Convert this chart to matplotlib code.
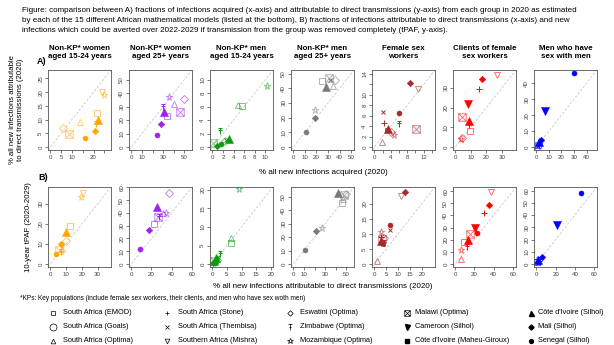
import matplotlib
matplotlib.use('Agg')
import matplotlib.pyplot as plt
from matplotlib.path import Path
from matplotlib.colors import to_rgba

plt.rcParams['font.family'] = ['Liberation Sans', 'DejaVu Sans']

# --- data ---
group_titles = ['Non-KP* women\naged 15-24 years', 'Non-KP* women\naged 25+ years',
                'Non-KP* men\naged 15-24 years', 'Non-KP* men\naged 25+ years',
                'Female sex\nworkers', 'Clients of female\nsex workers', 'Men who have\nsex with men']
group_colors = ['#FFA500', '#A020F0', '#119911', '#7A7A7A', '#A52A2A', '#FF0000', '#0000FF']

# row A: x = % acquired, y = % attributable to direct transmission
models_A1 = ['Eswatini', 'Malawi', 'SAOpt', 'Senegal', 'Mali', 'Zimbabwe', 'CdI_S', 'EMOD', 'Mishra', 'Mozambique']
x_A1 = [5.9, 8.5, 13.5, 15.9, 20.6, 21.2, 22.0, 21.8, 23.7, 24.7]
y_A1 = [6.9, 4.8, 9.0, 3.4, 5.9, 8.3, 9.9, 12.5, 20.1, 19.0]

models_A2 = ['Senegal', 'Mali', 'Zimbabwe', 'CdI_S', 'EMOD', 'Mozambique', 'SAOpt', 'Malawi', 'Eswatini']
x_A2 = [24.0, 28.0, 29.7, 31.0, 34.0, 35.6, 40.0, 46.0, 49.5]
y_A2 = [8.6, 17.0, 30.0, 26.0, 23.0, 37.0, 32.0, 26.0, 36.0]

models_A3 = ['Malawi', 'Mali', 'Senegal', 'Eswatini', 'Thembisa', 'Zimbabwe', 'CdI_S', 'SAOpt', 'EMOD', 'Mozambique']
x_A3 = [0.2, 0.8, 1.7, 2.3, 2.6, 1.4, 3.1, 4.9, 5.6, 10.4]
y_A3 = [0.6, 0.1, 0.5, 0.95, 1.1, 2.35, 1.25, 6.2, 6.05, 9.0]

models_A4 = ['Senegal', 'Mali', 'Mozambique', 'EMOD', 'CdI_S', 'Malawi', 'SAOpt', 'Thembisa', 'Eswatini']
x_A4 = [10.7, 18.8, 18.8, 25.0, 28.0, 31.0, 34.7, 32.0, 36.0]
y_A4 = [10.0, 20.0, 25.4, 45.0, 40.6, 47.0, 41.7, 46.0, 46.0]

models_A5 = ['SAOpt', 'Thembisa', 'Stone', 'CdI_MG', 'CdI_S', 'Eswatini', 'Mozambique', 'Senegal', 'Zimbabwe', 'Mali', 'Mishra', 'Malawi']
x_A5 = [1.8, 2.2, 2.4, 3.0, 3.3, 4.0, 4.8, 6.0, 6.0, 8.6, 10.6, 10.2]
y_A5 = [0.9, 6.7, 4.6, 3.3, 3.4, 2.9, 2.3, 6.6, 4.5, 12.3, 11.1, 3.4]

models_A6 = ['Mozambique', 'Eswatini', 'Malawi', 'EMOD', 'Zimbabwe', 'CdI_S', 'Cameroon', 'Stone', 'Mali', 'Mishra']
x_A6 = [3.4, 4.6, 4.3, 9.6, 8.5, 8.5, 8.1, 15.3, 17.0, 27.0]
y_A6 = [4.0, 4.6, 15.1, 8.3, 11.4, 13.0, 21.9, 29.5, 34.2, 36.3]

models_A7 = ['SAOpt', 'EMOD', 'Thembisa', 'Stone', 'CdI_S', 'Mali', 'Cameroon', 'Senegal']
x_A7 = [0.3, 1.0, 1.6, 2.2, 1.8, 3.7, 6.9, 30.0]
y_A7 = [0.0, 1.5, 0.8, 2.5, 3.0, 4.7, 22.5, 46.5]

# row B: x = % attributable to direct transmission, y = 10-year tPAF
models_B1 = ['Senegal', 'Malawi', 'Zimbabwe', 'Mali', 'SAOpt', 'Eswatini', 'CdI_S', 'EMOD', 'Mozambique', 'Mishra']
x_B1 = [3.4, 5.5, 6.6, 7.0, 7.4, 10.2, 10.2, 12.6, 19.4, 20.9]
y_B1 = [4.8, 6.9, 6.1, 10.2, 7.7, 11.4, 16.0, 18.8, 33.3, 35.7]

models_B2 = ['Senegal', 'Mali', 'EMOD', 'Malawi', 'Zimbabwe', 'CdI_S', 'SAOpt', 'Mozambique', 'Eswatini']
x_B2 = [9.0, 17.7, 22.7, 26.7, 28.0, 26.0, 31.0, 34.0, 37.3]
y_B2 = [12.1, 26.4, 31.5, 37.2, 37.0, 44.4, 39.8, 40.0, 56.0]

models_B3 = ['Mali', 'Malawi', 'Senegal', 'CdI_S', 'Eswatini', 'Thembisa', 'Zimbabwe', 'EMOD', 'SAOpt', 'Mozambique']
x_B3 = [0.3, 0.5, 0.8, 1.2, 1.5, 2.0, 2.7, 6.4, 6.5, 9.3]
y_B3 = [0.2, 0.8, 0.3, 1.5, 1.2, 1.8, 2.65, 5.6, 7.1, 20.2]

models_B4 = ['Senegal', 'Mali', 'Mozambique', 'CdI_S', 'EMOD', 'SAOpt', 'Malawi', 'Eswatini']
x_B4 = [10.6, 21.8, 27.3, 41.7, 46.0, 47.0, 48.0, 49.5]
y_B4 = [10.2, 24.3, 26.7, 52.4, 45.6, 48.0, 51.0, 51.7]

models_B5 = ['SAOpt', 'Stone', 'CdI_S', 'CdI_MG', 'Malawi', 'Eswatini', 'Zimbabwe', 'Mozambique', 'Thembisa', 'Senegal', 'Mishra', 'Mali']
x_B5 = [1.0, 2.8, 3.0, 3.5, 3.2, 4.0, 4.2, 2.7, 6.7, 6.5, 11.4, 12.8]
y_B5 = [0.9, 8.8, 7.5, 6.5, 8.2, 8.5, 7.0, 10.5, 11.4, 12.9, 22.6, 23.7]

models_B6 = ['SAOpt', 'Mozambique', 'Zimbabwe', 'EMOD', 'CdI_S', 'Malawi', 'Senegal', 'Cameroon', 'Stone', 'Mali', 'Mishra']
x_B6 = [5.5, 5.8, 12.4, 9.3, 13.0, 15.5, 23.0, 20.6, 30.2, 35.0, 37.0]
y_B6 = [4.3, 11.6, 14.2, 18.3, 19.6, 25.0, 25.5, 29.6, 41.7, 48.4, 59.0]

models_B7 = ['EMOD', 'Thembisa', 'Mozambique', 'CdI_S', 'Stone', 'Mali', 'Cameroon', 'Senegal']
x_B7 = [1.0, 1.5, 1.0, 2.0, 3.0, 5.8, 21.7, 46.0]
y_B7 = [1.5, 0.8, 3.5, 3.0, 2.5, 5.4, 31.7, 57.8]

# axis maxima (both axes share the same range in each panel)
A_max = [27, 55, 11, 50.5, 14.2, 37.5, 46.5]
B_max = [37, 58, 20, 55, 24.5, 61, 60.5]

A_xticks = [[0, 5, 10, 15, 20, 25], [0, 10, 20, 30, 40, 50], [0, 2, 4, 6, 8, 10], [0, 10, 20, 30, 40, 50],
            [0, 2, 4, 6, 8, 10, 12, 14], [0, 10, 20, 30], [0, 10, 20, 30, 40]]
A_xshown = [[0, 5, 10, 20], [0, 10, 30, 50], [0, 2, 4, 6, 8, 10], [0, 10, 20, 30, 40, 50],
            [0, 4, 8, 12], [0, 10, 20, 30], [0, 10, 20, 30, 40]]
A_yticks = [[0, 5, 10, 15, 20, 25], [0, 10, 20, 30, 40, 50], [0, 2, 4, 6, 8, 10], [0, 10, 20, 30, 40, 50],
            [0, 2, 4, 6, 8, 10, 12, 14], [0, 10, 20, 30], [0, 10, 20, 30, 40]]
A_yshown = [A_yticks[0], A_yticks[1], A_yticks[2], A_yticks[3], [0, 2, 4, 6, 8, 10, 14], A_yticks[5], A_yticks[6]]

B_xticks = [[0, 10, 20, 30], [0, 20, 40, 60], [0, 5, 10, 15, 20], [0, 10, 20, 30, 40, 50],
            [0, 5, 10, 15, 20], [0, 20, 40, 60], [0, 20, 40, 60]]
B_xshown = [B_xticks[0], B_xticks[1], B_xticks[2], [0, 10, 30, 50], B_xticks[4], B_xticks[5], B_xticks[6]]
B_yticks = [[0, 10, 20, 30], [0, 10, 20, 30, 40, 50, 60], [0, 5, 10, 15, 20], [0, 10, 20, 30, 40, 50],
            [0, 5, 10, 15, 20], [0, 10, 20, 30, 40, 50, 60], [0, 10, 20, 30, 40, 50, 60]]
B_yshown = B_yticks

legend_keys = ['EMOD', 'Goals', 'SAOpt', 'Stone', 'Thembisa', 'Mishra', 'Eswatini', 'Zimbabwe', 'Mozambique',
               'Malawi', 'Cameroon', 'CdI_MG', 'CdI_S', 'Mali', 'Senegal']
legend_labels = ['South Africa (EMOD)', 'South Africa (Goals)', 'South Africa (Optima)',
                 'South Africa (Stone)', 'South Africa (Thembisa)', 'Southern Africa (Mishra)',
                 'Eswatini (Optima)', 'Zimbabwe (Optima)', 'Mozambique (Optima)',
                 'Malawi (Optima)', 'Cameroon (Silhol)', "Côte d'Ivoire (Maheu-Giroux)",
                 "Côte d'Ivoire (Silhol)", 'Mali (Silhol)', 'Senegal (Silhol)']

# --- marker styles ---
M, L = Path.MOVETO, Path.LINETO
zim_marker = Path([(-0.6, 1), (0.6, 1), (0, 1), (0, -1), (-0.45, 0.15), (0.45, 0.15)], [M, L, M, L, M, L])
malawi_marker = Path([(-1, -1), (1, -1), (1, 1), (-1, 1), (-1, -1), (1, 1), (-1, 1), (1, -1)],
                     [M, L, L, L, L, L, M, L])

styles = {
    'EMOD': dict(marker='s', hollow=True, ms=4.0),
    'Goals': dict(marker='o', hollow=True, ms=4.0),
    'SAOpt': dict(marker='^', hollow=True, ms=4.6),
    'Stone': dict(marker='+', hollow=True, ms=4.2, full=True),
    'Thembisa': dict(marker='x', hollow=True, ms=3.2, full=True),
    'Mishra': dict(marker='v', hollow=True, ms=4.6),
    'Eswatini': dict(marker='D', hollow=True, ms=3.6),
    'Zimbabwe': dict(marker=zim_marker, hollow=True, ms=5.0, full=True),
    'Mozambique': dict(marker='*', hollow=True, ms=5.2),
    'Malawi': dict(marker=malawi_marker, hollow=True, ms=5.4),
    'Cameroon': dict(marker='v', hollow=False, ms=6.0),
    'CdI_MG': dict(marker='s', hollow=False, ms=3.0),
    'CdI_S': dict(marker='^', hollow=False, ms=6.0),
    'Mali': dict(marker='D', hollow=False, ms=3.3),
    'Senegal': dict(marker='o', hollow=False, ms=3.6),
}
legend_ms = {'EMOD': 2.8, 'Goals': 5.0, 'SAOpt': 3.4, 'Stone': 3.4, 'Thembisa': 2.6, 'Mishra': 3.4,
             'Eswatini': 2.8, 'Zimbabwe': 4.0, 'Mozambique': 3.8, 'Malawi': 4.0, 'Cameroon': 3.6,
             'CdI_MG': 2.6, 'CdI_S': 3.6, 'Mali': 2.6, 'Senegal': 2.8}


def draw_point(ax, key, x, y, color):
    st = styles[key]
    if st['hollow']:
        c = to_rgba(color, 1.0 if st.get('full') else 0.55)
        ax.plot(x, y, marker=st['marker'], ms=st['ms'], mfc='none', mec=c, mew=0.7, ls='none')
    else:
        ax.plot(x, y, marker=st['marker'], ms=st['ms'], mfc=color, mec=color, mew=0.4, ls='none')


W, H = 614, 345
fig = plt.figure(figsize=(W / 100, H / 100), dpi=100)


def fx(px):
    return px / W


def fy(py):
    return 1 - py / H


panels_A = [(models_A1, x_A1, y_A1), (models_A2, x_A2, y_A2), (models_A3, x_A3, y_A3), (models_A4, x_A4, y_A4),
            (models_A5, x_A5, y_A5), (models_A6, x_A6, y_A6), (models_A7, x_A7, y_A7)]
panels_B = [(models_B1, x_B1, y_B1), (models_B2, x_B2, y_B2), (models_B3, x_B3, y_B3), (models_B4, x_B4, y_B4),
            (models_B5, x_B5, y_B5), (models_B6, x_B6, y_B6), (models_B7, x_B7, y_B7)]

lefts = [48, 129, 210, 291, 372, 453, 534]
pw, ph = 63, 80


def setup_axes(ax, mx, xt, xs, yt, ys):
    lo, hi = -0.04 * mx, 1.04 * mx
    ax.set_xlim(lo, hi)
    ax.set_ylim(lo, hi)
    ax.axline((0, 0), slope=1, color='#C8C8C8', lw=0.6, ls=(0, (3, 2)), zorder=0)
    ax.set_xticks(xt)
    ax.set_xticklabels([str(t) if t in xs else '' for t in xt])
    ax.set_yticks(yt)
    ax.set_yticklabels([str(t) if t in ys else '' for t in yt], rotation=90, va='center')
    ax.tick_params(length=2.2, width=0.5, pad=1.2, labelsize=4.4, colors='#444444')
    for s in ax.spines.values():
        s.set_color('#555555')
        s.set_linewidth(0.6)


for i in range(7):
    color = group_colors[i]
    # row A
    ax = fig.add_axes([fx(lefts[i]), fy(150), fx(pw), ph / H])
    setup_axes(ax, A_max[i], A_xticks[i], A_xshown[i], A_yticks[i], A_yshown[i])
    mods, xs, ys = panels_A[i]
    for k, x, y in zip(mods, xs, ys):
        draw_point(ax, k, x, y, color)
    # row B
    ax = fig.add_axes([fx(lefts[i]), fy(267), fx(pw), ph / H])
    setup_axes(ax, B_max[i], B_xticks[i], B_xshown[i], B_yticks[i], B_yshown[i])
    mods, xs, ys = panels_B[i]
    for k, x, y in zip(mods, xs, ys):
        draw_point(ax, k, x, y, color)
    # column title
    fig.text(fx(lefts[i] + pw / 2), fy(52), group_titles[i], ha='center', va='center',
             fontsize=5.7, fontweight='bold', linespacing=1.2)

# caption
caption = ["Figure: comparison between A) fractions of infections acquired (x-axis) and attributable to direct "
           "transmissions (y-axis) from each group in 2020 as estimated",
           "by each of the 15 different African mathematical models (listed at the bottom), B) fractions of infections "
           "attributable to direct transmissions (x-axis) and new",
           "infections which could be averted over 2022-2029 if transmission from the group was removed completely "
           "(tPAF, y-axis)."]
for j, line in enumerate(caption):
    fig.text(fx(22), fy(10.5 + 10 * j), line, ha='left', va='center', fontsize=5.8)

fig.text(fx(37), fy(62), 'A)', fontsize=6.5, fontweight='bold', va='center')
fig.text(fx(38), fy(177), 'B)', fontsize=6.5, fontweight='bold', va='center')

fig.text(fx(17), fy(110), '% all new infections attributable\nto direct transmissions (2020)', rotation=90,
         ha='center', va='center', fontsize=5.6, multialignment='center', linespacing=1.2)
fig.text(fx(29), fy(227), '10-year tPAF (2020-2029)', rotation=90, ha='center', va='center', fontsize=5.6)
fig.text(fx(323), fy(172), '% all new infections acquired (2020)', ha='center', va='center', fontsize=5.8)
fig.text(fx(323), fy(286), '% all new infections attributable to direct transmissions (2020)',
         ha='center', va='center', fontsize=5.8)
fig.text(fx(20), fy(298), '*KPs: Key populations (include female sex workers, their clients, and men who have sex '
         'woth men)', ha='left', va='center', fontsize=4.7)

# legend (black symbols)
leg_ax = fig.add_axes([0, 0, 1, 1], facecolor='none')
leg_ax.set_xlim(0, W)
leg_ax.set_ylim(H, 0)
leg_ax.axis('off')
marker_x = [53, 167, 290, 407, 531]
text_x = [63, 178, 300, 415, 538]
row_y = [313, 327, 341]
for n, (k, lab) in enumerate(zip(legend_keys, legend_labels)):
    c, r = divmod(n, 3)
    st = styles[k]
    if st['hollow']:
        leg_ax.plot(marker_x[c], row_y[r], marker=st['marker'], ms=legend_ms[k], mfc='none', mec='black', mew=0.5)
    else:
        leg_ax.plot(marker_x[c], row_y[r], marker=st['marker'], ms=legend_ms[k], mfc='black', mec='black')
    leg_ax.text(text_x[c], row_y[r], lab, ha='left', va='center', fontsize=5.3)

fig.savefig('out.png', dpi=100)
